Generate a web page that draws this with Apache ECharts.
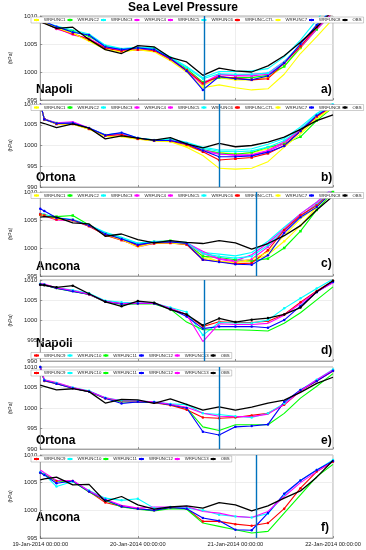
<!DOCTYPE html>
<html><head><meta charset="utf-8">
<script src="https://cdn.jsdelivr.net/npm/echarts@6/dist/echarts.min.js"></script>
<style>html,body{margin:0;padding:0;background:#fff}#c{width:366px;height:550px}</style>
</head><body><div id="c"></div>
<script>
// ---- categories / ticks ----
const hours = [0,1,4,8,12,16,20,24,28,32,36,40,44,48,52,56,60,64,68,72];
const xTickLabels = ['19-Jan-2014 00:00:00','20-Jan-2014 00:00:00','21-Jan-2014 00:00:00','22-Jan-2014 00:00:00'];
const panelStations = ['Napoli','Ortona','Ancona','Napoli','Ortona','Ancona'];
const panelLetters = ['a)','b)','c)','d)','e)','f)'];
const panelYMin = [995,990,995,990,990,995];
const yMax = 1010;
const eventHours = [40.3,44.1,53.1,40.3,44.1,53.1];
const namesTop = ['WRFUNC1','WRFUNC2','WRFUNC3','WRFUNC4','WRFUNC5','WRFUNC6','WRFUNC-CTL','WRFUNC7','WRFUNC8','OBS'];
const namesBot = ['WRFUNC9','WRFUNC10','WRFUNC11','WRFUNC12','WRFUNC13','OBS'];

// ---- panel a: Napoli ----
const aW1  = [1009.0,1008.8,1007.8,1007.0,1005.6,1004.2,1003.9,1004.2,1004.0,1002.3,1000.4,997.6,999.0,998.6,998.6,999.0,1001.0,1004.2,1007.8,1010.6];
const aW2  = [1009.0,1008.8,1008.0,1007.3,1006.4,1004.6,1004.0,1004.3,1004.2,1002.5,1000.6,998.2,999.0,999.0,999.0,999.4,1001.0,1004.4,1007.6,1010.6];
const aW3  = [1009.1,1008.9,1008.2,1007.5,1006.8,1004.8,1004.2,1004.4,1004.3,1002.7,1001.0,999.0,1000.1,1000.1,1000.2,1000.6,1002.7,1005.7,1009.3,1013.0];
const aW4  = [1009.0,1008.8,1007.9,1006.6,1006.0,1004.4,1003.8,1004.1,1003.8,1002.2,1000.1,997.7,999.5,999.4,999.6,999.8,1001.9,1004.4,1007.6,1010.6];
const aW5  = [1009.0,1008.8,1007.7,1006.8,1005.9,1004.3,1003.9,1004.0,1003.9,1002.4,1000.3,998.0,999.6,999.3,999.3,999.6,1001.6,1004.6,1007.9,1010.8];
const aW6  = [1009.1,1008.9,1008.0,1007.2,1006.6,1004.7,1004.1,1004.3,1004.1,1002.6,1000.8,998.8,999.7,999.6,999.6,999.8,1001.8,1005.0,1008.4,1011.4];
const aCTL = [1009.0,1008.8,1007.8,1006.8,1005.8,1004.3,1003.7,1004.0,1003.8,1002.3,1000.3,998.0,999.2,998.9,998.6,998.8,1001.6,1004.6,1008.0,1011.0];
const aW7  = [1009.0,1008.8,1007.9,1006.9,1005.5,1004.0,1003.6,1004.0,1003.6,1002.0,1000.0,997.2,997.7,997.2,996.8,997.0,999.6,1003.3,1006.3,1009.5];
const aW8  = [1009.3,1009.0,1008.1,1007.1,1006.6,1004.5,1004.0,1004.3,1004.0,1002.4,1000.2,996.8,999.2,998.8,998.6,999.3,1001.6,1005.0,1008.4,1011.2];
const aOBS = [1008.9,1008.7,1007.8,1008.0,1005.8,1004.0,1003.3,1004.7,1004.5,1002.6,1001.8,999.4,1000.7,1000.2,1000.0,1001.1,1002.9,1005.3,1008.0,1011.0];

// ---- panel b: Ortona ----
const bW1  = [1010.2,1006.3,1005.2,1005.2,1004.0,1002.3,1002.2,1001.6,1001.2,1001.0,999.8,998.6,998.3,998.0,998.2,999.2,1000.8,1003.2,1006.8,1009.4];
const bW2  = [1010.2,1006.3,1005.4,1005.3,1004.1,1002.5,1002.8,1001.7,1001.2,1001.2,1000.5,999.0,998.2,997.9,998.3,999.6,1000.4,1002.1,1006.0,1009.2];
const bW3  = [1010.2,1006.3,1005.4,1005.4,1004.2,1002.6,1002.9,1001.8,1001.4,1001.6,1000.8,999.6,998.9,998.9,999.2,1000.3,1001.7,1004.5,1007.7,1010.2];
const bW4  = [1010.2,1006.4,1005.5,1005.7,1004.2,1002.4,1002.8,1001.6,1001.3,1001.2,1000.5,998.6,997.9,997.8,997.6,998.6,1000.5,1004.0,1007.3,1009.8];
const bW5  = [1010.2,1006.3,1005.3,1005.6,1004.1,1002.4,1002.7,1001.7,1001.2,1001.3,1000.4,998.9,998.0,997.6,997.8,998.8,1000.9,1003.8,1007.0,1009.6];
const bW6  = [1010.2,1006.3,1005.3,1005.4,1004.1,1002.5,1003.0,1001.8,1001.3,1001.5,1000.6,999.3,998.6,998.5,998.7,999.6,1001.2,1004.0,1007.4,1009.9];
const bCTL = [1010.2,1006.3,1005.2,1005.2,1004.0,1002.4,1002.6,1001.6,1001.2,1001.1,1000.2,998.5,996.5,996.8,997.1,998.1,1000.0,1003.5,1007.0,1009.6];
const bW7  = [1010.2,1006.3,1005.2,1005.1,1003.9,1002.2,1002.1,1001.5,1001.1,1000.9,999.6,997.6,994.5,994.3,994.5,996.1,999.6,1002.8,1006.5,1009.2];
const bW8  = [1010.3,1006.3,1005.3,1005.4,1004.2,1002.5,1003.1,1001.8,1001.2,1001.2,1000.4,998.8,997.3,997.3,997.5,998.4,999.9,1003.5,1007.2,1009.7];
const bOBS = [1005.6,1005.3,1004.3,1005.2,1004.2,1001.6,1002.3,1001.8,1001.3,1001.9,1000.4,999.4,1000.5,999.7,1000.0,1000.8,1002.0,1003.9,1006.0,1007.4];

// ---- panel c: Ancona ----
const cW1  = [1006.0,1005.8,1005.2,1004.9,1004.0,1002.4,1001.6,1000.3,1000.9,1001.0,1000.7,998.6,997.6,997.4,997.7,998.8,1001.2,1004.0,1007.3,1010.2];
const cW2  = [1006.0,1005.9,1005.6,1005.8,1004.1,1002.6,1001.7,1000.6,1001.1,1001.3,1000.8,998.5,998.3,997.9,997.7,998.1,1000.0,1003.0,1006.8,1010.0];
const cW3  = [1006.2,1006.0,1005.4,1005.1,1004.1,1002.8,1001.9,1000.9,1001.2,1001.2,1001.0,999.2,998.9,998.6,999.2,1001.2,1003.7,1006.1,1008.2,1010.8];
const cW4  = [1006.0,1005.7,1005.0,1004.9,1003.9,1002.4,1001.5,1000.2,1000.8,1001.2,1000.9,999.4,998.1,997.7,998.8,1000.9,1003.4,1006.1,1008.2,1010.7];
const cW5  = [1006.1,1005.8,1005.1,1005.0,1004.0,1002.5,1001.6,1000.5,1000.9,1001.0,1000.8,999.0,998.0,997.5,998.0,1000.2,1003.0,1005.7,1007.9,1010.5];
const cW6  = [1006.1,1005.9,1005.3,1005.1,1004.1,1002.7,1001.8,1000.8,1001.1,1001.1,1000.9,999.0,998.5,998.2,998.5,1000.5,1003.2,1005.6,1007.8,1010.4];
const cCTL = [1006.0,1005.8,1005.1,1005.0,1003.9,1002.3,1001.4,1000.4,1000.8,1000.9,1000.6,997.9,997.6,997.2,997.3,999.6,1003.2,1005.8,1007.6,1010.3];
const cW7  = [1006.0,1005.8,1005.2,1005.0,1004.0,1002.4,1001.5,1000.2,1000.9,1000.9,1000.7,998.2,997.6,997.4,998.0,999.3,1002.2,1005.2,1007.3,1010.2];
const cW8  = [1007.0,1006.6,1005.4,1005.0,1004.0,1002.5,1001.6,1000.6,1001.0,1001.1,1000.8,997.9,997.5,997.1,997.0,998.7,1002.7,1005.5,1007.3,1010.2];
const cOBS = [1005.5,1005.6,1005.5,1004.5,1004.3,1002.1,1002.5,1001.5,1000.9,1001.3,1001.0,1000.8,1001.3,1000.9,999.8,1000.8,1002.2,1004.0,1006.8,1009.3];

// ---- panel d: Napoli ----
const dW9  = [1008.9,1008.8,1008.0,1007.3,1006.4,1004.7,1004.2,1004.2,1004.2,1003.0,1001.4,998.5,999.7,999.5,999.5,999.8,1001.5,1004.5,1007.3,1009.8];
const dW10 = [1009.0,1008.9,1008.1,1007.5,1006.7,1004.9,1004.5,1004.3,1004.3,1003.2,1002.1,996.4,999.5,999.4,999.4,1000.1,1003.0,1005.5,1007.9,1010.2];
const dW11 = [1008.9,1008.8,1007.9,1007.2,1006.4,1004.6,1004.0,1004.1,1004.1,1002.8,999.6,997.7,997.7,997.7,997.6,997.4,999.3,1001.9,1005.1,1008.3];
const dW12 = [1008.9,1008.8,1008.0,1007.2,1006.5,1004.7,1004.1,1004.2,1004.2,1002.9,1001.0,998.0,998.5,998.5,998.5,998.2,1000.1,1003.6,1007.0,1009.5];
const dW13 = [1009.2,1009.0,1008.1,1007.4,1006.5,1004.7,1004.2,1004.3,1004.3,1003.0,1001.5,994.8,999.2,999.0,999.0,999.3,1001.3,1004.2,1007.1,1009.3];
const dOBS = [1008.8,1008.7,1008.2,1008.6,1006.6,1004.6,1003.5,1004.8,1004.4,1002.7,1001.5,998.8,1000.5,999.6,1000.2,1000.6,1001.5,1003.2,1007.1,1009.8];

// ---- panel e: Ortona ----
const eW9  = [1010.0,1006.6,1005.9,1004.8,1004.0,1002.3,1001.6,1001.5,1001.3,1000.7,999.6,997.7,997.5,997.7,998.2,998.7,1000.8,1004.2,1006.6,1009.0];
const eW10 = [1010.0,1006.8,1006.1,1005.0,1004.2,1002.5,1001.8,1001.7,1001.5,1001.0,1000.8,998.7,998.4,998.0,997.7,998.7,1001.1,1004.4,1006.9,1009.4];
const eW11 = [1010.0,1006.7,1006.0,1004.9,1004.0,1002.4,1001.5,1001.5,1001.4,1000.8,1000.0,995.4,994.5,995.9,995.9,995.9,998.7,1002.4,1005.3,1008.4];
const eW12 = [1010.0,1006.7,1005.9,1004.8,1004.0,1002.4,1001.1,1001.5,1001.4,1000.8,1000.0,994.2,993.4,995.4,995.6,996.0,1001.5,1004.4,1006.6,1009.1];
const eW13 = [1010.1,1006.9,1006.2,1005.0,1004.1,1002.5,1001.7,1001.7,1001.5,1000.9,1000.2,998.7,998.0,997.9,997.9,998.5,1000.9,1004.2,1006.9,1009.3];
const eOBS = [1005.6,1005.3,1004.4,1004.7,1004.0,1001.2,1002.1,1002.0,1001.1,1002.2,1000.9,999.5,1000.3,999.5,1000.2,1001.2,1001.9,1003.8,1006.0,1007.5];

// ---- panel f: Ancona ----
const fW9  = [1006.8,1006.5,1005.3,1005.3,1003.4,1001.4,1000.7,1000.3,1000.0,1000.5,1000.3,998.0,998.0,997.5,997.2,997.7,1000.3,1004.0,1007.0,1008.8];
const fW10 = [1006.9,1006.5,1004.3,1005.2,1003.6,1002.2,1001.8,1002.1,1000.4,1000.6,1000.4,1000.0,999.2,998.9,998.7,999.4,1002.8,1005.4,1007.3,1009.1];
const fW11 = [1006.8,1006.5,1005.3,1005.2,1003.3,1001.8,1000.6,1000.2,999.9,1000.3,1000.2,997.7,997.1,996.5,995.9,996.2,999.5,1002.8,1006.1,1008.3];
const fW12 = [1006.8,1006.4,1004.9,1005.3,1003.4,1001.9,1000.7,1000.3,1000.0,1000.5,1000.3,998.6,998.1,996.5,996.4,999.5,1003.0,1005.4,1007.3,1008.9];
const fW13 = [1007.3,1006.8,1005.4,1005.4,1003.5,1002.0,1000.9,1000.4,1000.6,1000.6,1000.7,999.8,999.5,998.9,998.7,999.8,1002.5,1005.0,1007.0,1008.8];
const fOBS = [1005.5,1005.7,1006.0,1004.6,1004.7,1001.6,1002.5,1001.0,1000.2,1000.6,1000.8,1000.4,1001.4,1001.0,999.9,1000.8,1002.2,1003.5,1006.0,1009.0];

const panelData = [
  [aW1,aW2,aW3,aW4,aW5,aW6,aCTL,aW7,aW8,aOBS],
  [bW1,bW2,bW3,bW4,bW5,bW6,bCTL,bW7,bW8,bOBS],
  [cW1,cW2,cW3,cW4,cW5,cW6,cCTL,cW7,cW8,cOBS],
  [dW9,dW10,dW11,dW12,dW13,dOBS],
  [eW9,eW10,eW11,eW12,eW13,eOBS],
  [fW9,fW10,fW11,fW12,fW13,fOBS]
];

// ---- styles ----
const styleTop = {
  'WRFUNC1':{c:'#ffff00',s:'circle'}, 'WRFUNC2':{c:'#00ff00',s:'rect'}, 'WRFUNC3':{c:'#00ffff',s:'none'},
  'WRFUNC4':{c:'#ff00ff',s:'none'}, 'WRFUNC5':{c:'#ff00ff',s:'circle'}, 'WRFUNC6':{c:'#00ffff',s:'circle'},
  'WRFUNC-CTL':{c:'#ff0000',s:'rect'}, 'WRFUNC7':{c:'#ffff00',s:'none'}, 'WRFUNC8':{c:'#0000ff',s:'circle'}, 'OBS':{c:'#000000',s:'none'}
};
const styleBot = {
  'WRFUNC9':{c:'#ff0000',s:'circle'}, 'WRFUNC10':{c:'#00ffff',s:'circle'}, 'WRFUNC11':{c:'#00ff00',s:'none'},
  'WRFUNC12':{c:'#0000ff',s:'circle'}, 'WRFUNC13':{c:'#ff00ff',s:'none'}, 'OBS':{c:'#000000',s:'none'}
};

const gridPos = [[16,84],[104,83],[192,84],[280,81],[367,82],[455,83]];
const legendTop = [17,104.5,192.5,352.5,370,456];
const labelY = [91,178.5,268,345,441.5,519];
const letterY = [91,179,265,352,442,529];
const FONT = 'Liberation Sans, Arial, sans-serif';

const grids=[], xAxes=[], yAxes=[], series=[], legends=[], graphics=[];
for (let p=0;p<6;p++){
  grids.push({left:30,right:33,top:gridPos[p][0],height:gridPos[p][1],show:true,borderColor:'#7a7a7a',borderWidth:0.6,backgroundColor:'#fff'});
  xAxes.push({type:'value',gridIndex:p,min:0,max:72,interval:24,
    axisLine:{show:true,lineStyle:{color:'#7a7a7a',width:0.6}},
    axisTick:{show:true,inside:true,length:2,lineStyle:{color:'#555',width:0.6}},
    splitLine:{show:true,lineStyle:{color:'#e3e3e3',width:0.6}},
    axisLabel:{show:p===5,fontSize:5.7,color:'#222',fontFamily:FONT,margin:3,
      formatter:v=>xTickLabels[Math.round(v/24)]}});
  yAxes.push({type:'value',gridIndex:p,min:panelYMin[p],max:yMax,interval:5,
    name:'(hPa)',nameLocation:'middle',nameGap:15,nameRotate:90,
    nameTextStyle:{fontSize:5,color:'#222',fontFamily:FONT},
    axisLine:{show:true,lineStyle:{color:'#7a7a7a',width:0.6}},
    axisTick:{show:true,inside:true,length:2,lineStyle:{color:'#555',width:0.6}},
    splitLine:{show:true,lineStyle:{color:'#e3e3e3',width:0.6}},
    axisLabel:{fontSize:6,color:'#222',fontFamily:FONT,margin:3,formatter:v=>String(v)}});
  const names = p<3?namesTop:namesBot;
  const st = p<3?styleTop:styleBot;
  names.forEach((nm,k)=>{
    const sdef = st[nm];
    const isObs = nm==='OBS';
    const sym = (p===3 && isObs)?'circle':sdef.s;
    const s = {type:'line',name:nm,xAxisIndex:p,yAxisIndex:p,
      data:hours.map((h,i)=>[h,panelData[p][k][i]]),
      symbol:sym,symbolSize:2.5,showSymbol:sym!=='none',
      lineStyle:{color:sdef.c,width:isObs?1.3:1.1},itemStyle:{color:sdef.c},
      clip:true,animation:false,silent:true,z:isObs?3:2};
    if(isObs){
      s.markLine={silent:true,symbol:['none','none'],label:{show:false},animation:false,
        lineStyle:{color:'#0072BD',width:1.4,type:'solid'},data:[{xAxis:eventHours[p]}]};
    }
    series.push(s);
  });
  legends.push({data:names,left:31,top:legendTop[p],width:340,orient:'horizontal',
    itemWidth:5,itemHeight:3,itemGap:1,padding:[1,2,1,2],
    backgroundColor:'#fff',borderColor:'#9a9a9a',borderWidth:0.5,
    textStyle:{fontSize:4.3,color:'#222',fontFamily:FONT},selectedMode:false});
  graphics.push({type:'text',left:36,top:labelY[p]-7,style:{text:panelStations[p],font:'bold 12px '+FONT,fill:'#000'}});
  graphics.push({type:'text',left:321,top:letterY[p]-7,style:{text:panelLetters[p],font:'bold 12px '+FONT,fill:'#000'}});
}
graphics.push({type:'text',left:'center',top:2,style:{text:'Sea Level Pressure',font:'bold 12px '+FONT,fill:'#000'}});

const chart = echarts.init(document.getElementById('c'),null,{renderer:'canvas'});
chart.setOption({animation:false,backgroundColor:'#fff',grid:grids,xAxis:xAxes,yAxis:yAxes,series:series,legend:legends,graphic:graphics});
</script></body></html>
